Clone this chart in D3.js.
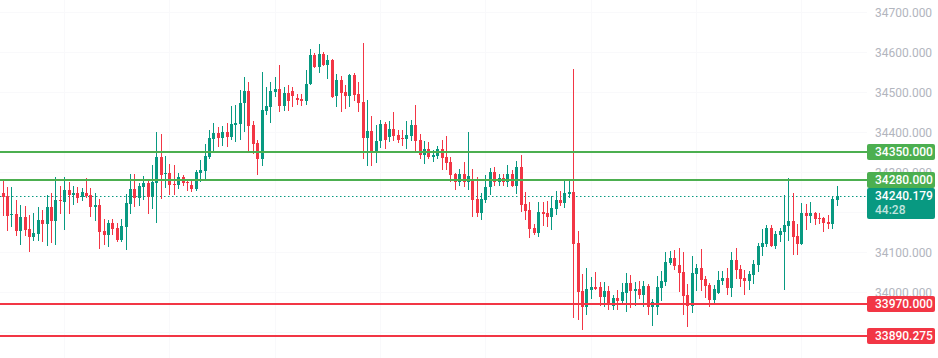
<!DOCTYPE html>
<html><head><meta charset="utf-8">
<script src="https://cdn.jsdelivr.net/npm/d3@7"></script>
<style>body{margin:0;background:#fff;overflow:hidden}svg{display:block}</style>
</head><body><svg id="c" width="938" height="358"></svg>
<script>
// ---- data ----
const open=[
34247.5,34240,34193,34196,34153,34187.5,34157.5,34138,34146,34180,
34171,34212.5,34178,34230,34226,34255,34243,34247.5,34237,34247.5,
34242.5,34212,34217.5,34152.5,34143,34172.5,34160,34131,34163,34221,
34257.5,34236,34263,34272.5,34238,34272.5,34337.5,34296,34297.5,34270,
34267.5,34287.5,34275,34267.5,34258,34297.5,34302.5,34337.5,34382.5,34397.5,
34385,34400,34387.5,34417.5,34420,34472.5,34502.5,34417.5,34372.5,34332.5,
34452.5,34462.5,34500,34507.5,34465,34497.5,34502.5,34485,34482.5,34477.5,
34520,34592.5,34562.5,34595,34567.5,34580,34490,34530,34500,34490,
34542.5,34495,34475,34385,34402.5,34352.5,34377.5,34420,34387.5,34407.5,
34392.5,34385,34382.5,34390,34417.5,34380,34342.5,34357.5,34337.5,34340,
34357.5,34337.5,34325,34295,34275,34295,34275,34282.5,34232.5,34197.5,
34230,34262.5,34300,34275,34285,34275,34295,34265,34312.5,34220,
34205,34160,34147.5,34200,34197.5,34187.5,34207.5,34230,34222.5,34245,
34250,34122.5,34002.5,33962.5,34005,34012.5,34012.5,33987.5,34002.5,33965,
33985,33977.5,33997.5,34022.5,34002.5,34007.5,33992.5,34015,33962.5,33962.5,
34010,34025,34072.5,34085,34067.5,34050,33992.5,33965,34045,34060,
34032.5,34017.5,33980,33997.5,34027.5,34035,34010,34080,34057.5,34035,
34027.5,34042.5,34067.5,34112.5,34120,34160,34115,34142.5,34150,34165,
34177.5,34140,34120,34197.5,34190,34197.5,34185,34185,34175,34170,
34230];
const close=[
34238,34191,34196,34153,34187.5,34155,34138,34147.5,34180,34171,
34212.5,34178,34230,34227.5,34255,34243,34247.5,34236,34250,34240,
34212,34218,34151,34143,34172.5,34158,34131,34165,34222.5,34257.5,
34236,34265,34272.5,34238,34275,34337.5,34292.5,34297.5,34267.5,34267.5,
34287.5,34273,34272.5,34258,34300,34305,34340,34385,34397.5,34385,
34400,34387.5,34420,34422.5,34472.5,34502.5,34415,34370,34332.5,34455,
34465,34502.5,34507.5,34465,34497.5,34477.5,34490,34480,34477.5,34520,
34592.5,34562.5,34595,34567.5,34580,34487.5,34530,34497.5,34490,34542.5,
34492.5,34472.5,34385,34402.5,34352.5,34377.5,34420,34380,34407.5,34390,
34380,34382.5,34392.5,34417.5,34377.5,34342.5,34357.5,34337.5,34342.5,34357.5,
34335,34322.5,34292.5,34275,34295,34275,34290,34230,34197.5,34232.5,
34262.5,34300,34275,34285,34275,34295,34265,34312.5,34217.5,34202.5,
34157.5,34147.5,34200,34195,34187.5,34210,34230,34222.5,34247.5,34250,
34120,34000,33962.5,34007.5,34012.5,34007.5,33987.5,34002.5,33970,33985,
33977.5,34000,34022.5,34002.5,34007.5,33992.5,34015,33962.5,33975,34012.5,
34027.5,34075,34085,34065,34047.5,33990,33965,34047.5,34060,34030,
34015,33980,34007.5,34030,34035,34010,34080,34055,34032.5,34027.5,
34045,34070,34115,34122.5,34160,34115,34145,34152.5,34167.5,34177.5,
34137.5,34120,34197.5,34190,34197.5,34182.5,34182.5,34172.5,34170,34232.5,
34240.179];
const high=[
34277.5,34262,34262,34230,34217.5,34215,34192.5,34197.5,34212.5,34205,
34242.5,34247.5,34287.5,34265,34287.5,34274,34265,34262,34260,34285,
34260,34247.5,34232.5,34182.5,34180,34182.5,34172.5,34182.5,34245,34295,
34295,34272.5,34290,34280,34317.5,34400,34395,34340,34320,34317.5,
34297.5,34292.5,34280,34277.5,34305,34330,34370,34405,34422.5,34412.5,
34415,34422.5,34465,34467.5,34505,34537.5,34525,34427.5,34380,34550,
34512.5,34525,34537.5,34567.5,34512.5,34517.5,34512.5,34495,34495,34555,
34607.5,34597.5,34620,34600,34592.5,34582.5,34545,34540,34517.5,34545,
34547.5,34525,34622.5,34480,34440,34417.5,34430,34425,34427.5,34450,
34405,34405,34427.5,34430,34467.5,34395,34377.5,34375,34355,34365,
34380,34390,34337.5,34297.5,34307.5,34325,34400,34307.5,34287.5,34247.5,
34292.5,34310,34312.5,34295,34295,34317.5,34305,34327.5,34342.5,34250,
34225,34170,34225,34225,34227.5,34240,34252.5,34252.5,34282.5,34277.5,
34557.5,34152.5,34045,34060,34037.5,34050,34025,34025,34015,33992.5,
34005,34022.5,34047.5,34042.5,34025,34027.5,34027.5,34020,33982.5,34040,
34052.5,34100,34102.5,34105,34110,34100,34020,34090,34070,34107.5,
34040,34022.5,34017.5,34052.5,34052.5,34060,34100,34110,34067.5,34055,
34052.5,34080,34122.5,34157.5,34167.5,34167.5,34152.5,34160,34242.5,34285,
34247.5,34170,34222.5,34220,34225,34200,34197.5,34187.5,34192.5,34240,
34265];
const low=[
34191,34153,34163,34141,34118,34141,34101,34127.5,34127.5,34124,
34116,34123,34118,34196,34156,34196,34218,34223,34228,34236,
34188,34178,34108,34118,34113,34143,34126,34126,34106,34196,
34213,34216,34231,34196,34208,34173,34232.5,34261,34243,34243,
34257.5,34266,34252.5,34251,34253,34275,34282.5,34332.5,34350,34362.5,
34365,34362.5,34380,34375,34380,34400,34352.5,34345,34292.5,34315,
34442.5,34422.5,34487.5,34450,34452.5,34452.5,34462.5,34467.5,34465,34467.5,
34517.5,34560,34547.5,34565,34532.5,34485,34462.5,34450,34457.5,34462.5,
34477.5,34450,34332.5,34315,34315,34322.5,34360,34357.5,34375,34377.5,
34372.5,34365,34357.5,34377.5,34352.5,34332.5,34320,34332.5,34325,34332.5,
34305,34305,34275,34255,34265,34262.5,34255,34187.5,34187.5,34180,
34222.5,34242.5,34265,34265,34265,34262.5,34262.5,34245,34200,34180,
34135,34142.5,34137.5,34165,34162.5,34155,34192.5,34215,34210,34235,
33935,33930,33905,33942.5,33982.5,34005,33965,33962.5,33955,33955,
33955,33967.5,33950,33960,33965,33982.5,33962.5,33942.5,33915,33942.5,
33977.5,34015,34067.5,34055,34000,33942.5,33912.5,33947.5,34002.5,34002.5,
33985,33962.5,33970,33995,34017.5,33992.5,33987.5,34032.5,34012.5,33992.5,
34005,34020,34050,34090,34112.5,34112.5,34107.5,34125,34005,34127.5,
34092.5,34092.5,34117.5,34155,34172.5,34167.5,34170,34150,34157.5,34157.5,
34215];
const priceTicks=[34700,34600,34500,34400,34300,34200,34100,34000,33900];
const levels=[34350,34280,33970,33890.275];
const lastPrice=34240.179;
const countdown="44:28";

// ---- layout ----
const W=938,H=358,plotRight=867;
const UP="#089981",DOWN="#f23645",LVL_UP="#4caf50";
const n=open.length;
const idx=d3.range(n);
const x=d3.scaleLinear().domain([0,n-1]).range([2.7,836.6]);
const y=d3.scaleLinear().domain([34700,34000]).range([12,292]);
const svg=d3.select("#c");
const font="Roboto, 'Liberation Sans', sans-serif";

// grid (very faint)
const g0=svg.append("g").attr("shape-rendering","crispEdges");
g0.selectAll("line.v").data(d3.range(14,n,24)).join("line")
  .attr("x1",d=>Math.round(x(d))+0.5).attr("x2",d=>Math.round(x(d))+0.5)
  .attr("y1",0).attr("y2",H).attr("stroke","#f9f9fb");
g0.selectAll("line.h").data(priceTicks).join("line")
  .attr("x1",0).attr("x2",plotRight).attr("y1",d=>Math.round(y(d))+0.5).attr("y2",d=>Math.round(y(d))+0.5)
  .attr("stroke","#f9f9fb");

// current price dotted line
svg.append("line").attr("x1",0).attr("x2",plotRight)
  .attr("y1",Math.round(y(lastPrice))+0.5).attr("y2",Math.round(y(lastPrice))+0.5)
  .attr("stroke",UP).attr("stroke-width",1).attr("stroke-dasharray","1.5,2.5");

// candles
const gc=svg.append("g").attr("shape-rendering","crispEdges");
const col=i=>close[i]>=open[i]?UP:DOWN;
gc.selectAll("rect.w").data(idx).join("rect")
  .attr("x",i=>Math.round(x(i)))
  .attr("width",1)
  .attr("y",i=>y(high[i]))
  .attr("height",i=>Math.max(1,y(low[i])-y(high[i])))
  .attr("fill",col);
gc.selectAll("rect.b").data(idx).join("rect")
  .attr("x",i=>Math.round(x(i))-1)
  .attr("width",3)
  .attr("y",i=>y(Math.max(open[i],close[i])))
  .attr("height",i=>Math.max(1,Math.abs(y(open[i])-y(close[i]))))
  .attr("fill",col);

// level lines
const lvlColor=v=>v>lastPrice?LVL_UP:DOWN;
svg.append("g").selectAll("line").data(levels).join("line")
  .attr("x1",0).attr("x2",plotRight)
  .attr("y1",d=>Math.round(y(d))).attr("y2",d=>Math.round(y(d)))
  .attr("stroke",lvlColor).attr("stroke-width",2);

// label boxes on the price scale: [top, bottom] in pixels
const boxes=levels.map(v=>[y(v)-8,y(v)+8]).concat([[y(lastPrice)-8,y(lastPrice)+23]]);
// tick labels (mostly) covered by a box are not visible in the reference
const visibleTicks=priceTicks.filter(t=>!boxes.some(b=>y(t)-4>=b[0]&&y(t)+4<=b[1]));

// right axis
const axis=d3.axisRight(y).tickValues(visibleTicks).tickFormat(d3.format(".3f")).tickSize(0).tickPadding(0);
const ga=svg.append("g").attr("transform",`translate(875,0)`).call(axis);
ga.select(".domain").remove();
ga.selectAll("text").attr("fill","#b2b5be").attr("font-size",12).attr("font-family",font).attr("dy","0.35em");

// level labels
const gl=svg.append("g");
levels.forEach(v=>{
  const cy=y(v);
  gl.append("rect").attr("x",plotRight).attr("y",cy-8).attr("width",68).attr("height",16).attr("rx",2).attr("fill",lvlColor(v));
  gl.append("text").attr("x",875).attr("y",cy).attr("dy","0.36em").attr("fill","#fff")
    .attr("font-size",12).attr("font-weight",500).attr("font-family",font).text(d3.format(".3f")(v));
});
// last price label
const ly=y(lastPrice);
gl.append("rect").attr("x",plotRight).attr("y",ly-8).attr("width",68).attr("height",31).attr("rx",2).attr("fill",UP);
gl.append("text").attr("x",875).attr("y",ly).attr("dy","0.36em").attr("fill","#fff")
  .attr("font-size",12).attr("font-weight",500).attr("font-family",font).text(d3.format(".3f")(lastPrice));
gl.append("text").attr("x",875).attr("y",ly+14).attr("dy","0.36em").attr("fill","#fff").attr("fill-opacity",0.75)
  .attr("font-size",12).attr("font-weight",500).attr("font-family",font).text(countdown);
</script></body></html>
